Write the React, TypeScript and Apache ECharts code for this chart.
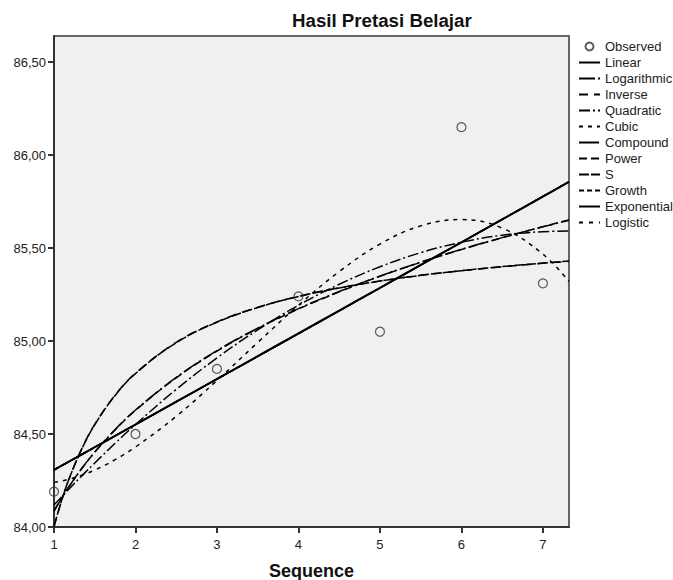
import React, { useEffect, useRef } from "react";
import * as echarts from "echarts";

// Observed data
const sequence = [1, 2, 3, 4, 5, 6, 7];
const observed = [84.19, 84.5, 84.85, 85.24, 85.05, 86.15, 85.31];

// Axis ticks
const xTicks = [1, 2, 3, 4, 5, 6, 7];
const yTicks = [84, 84.5, 85, 85.5, 86, 86.5];

// x positions at which the fitted curves were read
const curveX = [1, 1.1, 1.2, 1.35, 1.5, 1.75, 2, 2.5, 3, 3.5, 4, 4.5, 5, 5.5, 6, 6.5, 7, 7.32];

// Fitted curves
const linearFit = [84.306, 84.331, 84.355, 84.392, 84.429, 84.49, 84.551, 84.674, 84.796, 84.919, 85.041, 85.164, 85.286, 85.409, 85.531, 85.654, 85.776, 85.855];
const logarithmicFit = [84.084, 84.159, 84.227, 84.32, 84.403, 84.524, 84.629, 84.804, 84.948, 85.069, 85.174, 85.266, 85.349, 85.424, 85.493, 85.556, 85.614, 85.649];
const inverseFit = [84.001, 84.151, 84.276, 84.429, 84.552, 84.709, 84.827, 84.993, 85.103, 85.181, 85.24, 85.286, 85.323, 85.353, 85.378, 85.399, 85.418, 85.428];
const quadraticFit = [84.118, 84.165, 84.211, 84.279, 84.344, 84.45, 84.551, 84.74, 84.909, 85.06, 85.192, 85.305, 85.399, 85.475, 85.531, 85.569, 85.588, 85.591];
const cubicFit = [84.24, 84.248, 84.259, 84.28, 84.306, 84.362, 84.43, 84.595, 84.788, 84.992, 85.192, 85.373, 85.521, 85.619, 85.653, 85.607, 85.467, 85.32];
const compoundFit = [84.308, 84.332, 84.356, 84.393, 84.429, 84.49, 84.551, 84.673, 84.795, 84.917, 85.039, 85.162, 85.285, 85.408, 85.531, 85.654, 85.778, 85.857];
const powerFit = [84.087, 84.161, 84.228, 84.32, 84.402, 84.522, 84.627, 84.802, 84.946, 85.067, 85.172, 85.264, 85.348, 85.423, 85.492, 85.555, 85.615, 85.651];
const sFit = [84.004, 84.152, 84.276, 84.428, 84.55, 84.707, 84.825, 84.991, 85.101, 85.18, 85.239, 85.285, 85.322, 85.353, 85.378, 85.4, 85.419, 85.43];
const growthFit = [84.308, 84.332, 84.356, 84.393, 84.429, 84.49, 84.551, 84.673, 84.795, 84.917, 85.039, 85.162, 85.285, 85.408, 85.531, 85.654, 85.778, 85.857];
const exponentialFit = [84.308, 84.332, 84.356, 84.393, 84.429, 84.49, 84.551, 84.673, 84.795, 84.917, 85.039, 85.162, 85.285, 85.408, 85.531, 85.654, 85.778, 85.857];
const logisticFit = [84.308, 84.332, 84.356, 84.393, 84.429, 84.49, 84.551, 84.673, 84.795, 84.917, 85.039, 85.162, 85.285, 85.408, 85.531, 85.654, 85.778, 85.857];

const curveNames = ["Linear", "Logarithmic", "Inverse", "Quadratic", "Cubic", "Compound", "Power", "S", "Growth", "Exponential", "Logistic"];
const curveValues = [linearFit, logarithmicFit, inverseFit, quadraticFit, cubicFit, compoundFit, powerFit, sFit, growthFit, exponentialFit, logisticFit];
const curveDash: (string | number[])[] = [
  "solid",
  [16, 3, 2, 3],
  [9, 6],
  [11, 3, 2, 3],
  [4, 5],
  [20, 2, 1, 2],
  [8, 4],
  [10, 2],
  [5, 3],
  "solid",
  [4, 6],
];
const curveWidth = [2, 1.5, 1.5, 1.5, 1.5, 1.3, 1.5, 1.5, 1.3, 1.3, 1.3];

const FONT = "'Liberation Sans', Arial, sans-serif";

export default function App() {
  const ref = useRef<HTMLDivElement>(null);

  useEffect(() => {
    document.body.style.margin = "0";
    if (!ref.current) return;
    const chart = echarts.init(ref.current, null, { renderer: "svg" });

    const lineSeries = curveNames.map((name, i) => ({
      name,
      type: "line",
      data: curveX.map((x, j) => [x, curveValues[i][j]]),
      smooth: 0.4,
      symbol: "none",
      showSymbol: false,
      lineStyle: { color: "#000", width: curveWidth[i], type: curveDash[i] },
      itemStyle: { color: "rgba(0,0,0,0)", borderWidth: 0, borderColor: "rgba(0,0,0,0)" },
      z: 3,
    }));

    chart.setOption({
      animation: false,
      backgroundColor: "#fff",
      title: {
        text: "Hasil Pretasi Belajar",
        left: 292,
        top: 11,
        padding: 0,
        textStyle: { fontFamily: FONT, fontSize: 18.7, fontWeight: "bold", color: "#111" },
      },
      legend: {
        orient: "vertical",
        left: 578,
        top: 40,
        padding: 0,
        itemGap: 3,
        itemWidth: 21,
        itemHeight: 8,
        selectedMode: false,
        textStyle: { fontFamily: FONT, fontSize: 13, color: "#222" },
        data: ["Observed", ...curveNames],
      },
      grid: {
        left: 54,
        right: 104,
        top: 36,
        bottom: 53,
        containLabel: false,
        outerBoundsMode: "none",
        show: true,
        backgroundColor: "#F0F0F0",
        borderColor: "#666",
        borderWidth: 2,
      },
      xAxis: {
        type: "value",
        min: 1,
        max: 7.32,
        interval: 1,
        name: "Sequence",
        nameLocation: "middle",
        nameGap: 35,
        nameTextStyle: { fontFamily: FONT, fontSize: 18, fontWeight: "bold", color: "#111" },
        axisLine: { show: true, onZero: false, lineStyle: { color: "#333", width: 2 } },
        axisTick: { show: true, length: 6, lineStyle: { color: "#333", width: 2 }, customValues: xTicks },
        axisLabel: { fontFamily: FONT, fontSize: 13, color: "#222", margin: 11, customValues: xTicks },
        splitLine: { show: false },
      },
      yAxis: {
        type: "value",
        min: 84,
        max: 86.64,
        interval: 0.5,
        axisLine: { show: true, onZero: false, lineStyle: { color: "#333", width: 2 } },
        axisTick: { show: true, length: 6, lineStyle: { color: "#333", width: 2 }, customValues: yTicks },
        axisLabel: {
          fontFamily: FONT,
          fontSize: 13,
          color: "#222",
          margin: 8,
          customValues: yTicks,
          formatter: (v: number) => v.toFixed(2).replace(".", ","),
        },
        splitLine: { show: false },
      },
      series: [
        {
          name: "Observed",
          type: "scatter",
          data: sequence.map((x, i) => [x, observed[i]]),
          symbol: "circle",
          symbolSize: 9,
          itemStyle: { color: "rgba(0,0,0,0)", borderColor: "#333", borderWidth: 1.2 },
          z: 4,
        },
        ...lineSeries,
      ],
    });

    return () => chart.dispose();
  }, []);

  return <div ref={ref} style={{ width: 673, height: 580 }} />;
}
